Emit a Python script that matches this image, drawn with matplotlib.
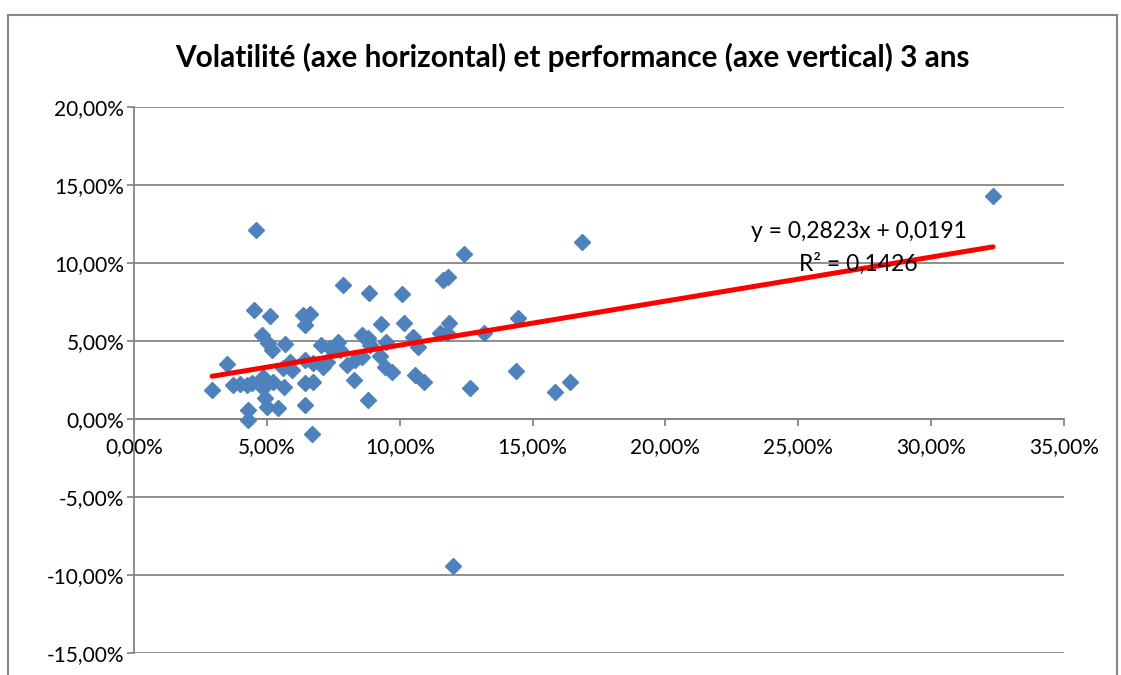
import matplotlib
matplotlib.use("Agg")
import matplotlib.pyplot as plt
from matplotlib.ticker import FuncFormatter, MultipleLocator
from matplotlib.patches import Rectangle
import numpy as np

# Volatility (x, %) and performance (y, %)
volatilite = [2.94, 3.50, 3.73, 3.99, 4.25, 4.44, 4.29, 4.29, 4.59, 4.52,
              4.82, 5.04, 5.19, 4.86, 4.93, 5.01, 5.12, 5.23, 5.42, 5.65,
              5.68, 5.61, 5.87, 5.95, 6.36, 6.62, 6.44, 6.44, 6.74, 6.44,
              6.74, 6.44, 6.70, 7.04, 7.11, 7.38, 7.68, 7.75, 7.87, 8.02,
              8.32, 8.28, 8.58, 8.58, 8.81, 8.88, 8.84, 8.81, 9.26, 9.30,
              9.48, 9.45, 9.71, 10.09, 10.16, 10.50, 10.69, 10.58, 10.91, 11.52,
              11.63, 11.82, 11.78, 11.86, 12.01, 12.42, 12.65, 13.17, 14.38, 14.45,
              15.84, 16.41, 16.86, 32.33, 4.86, 7.26]
performance = [1.86, 3.53, 2.18, 2.24, 2.18, 2.31, 0.58, -0.06, 12.12, 6.99,
               5.38, 4.87, 4.42, 2.69, 1.35, 0.77, 6.60, 2.37, 0.71, 2.05,
               4.81, 3.27, 3.65, 3.14, 6.67, 6.73, 6.03, 3.78, 3.59, 2.31,
               2.37, 0.90, -0.96, 4.74, 3.33, 4.55, 4.94, 4.42, 8.59, 3.46,
               3.78, 2.50, 3.97, 5.38, 5.19, 4.74, 8.08, 1.22, 4.04, 6.09,
               4.94, 3.33, 3.01, 8.01, 6.15, 5.26, 4.62, 2.82, 2.37, 5.51,
               8.91, 9.10, 5.51, 6.15, -9.42, 10.58, 1.99, 5.51, 3.08, 6.47,
               1.73, 2.37, 11.35, 14.29, 1.99, 3.65]

pente = 0.2823
ordonnee = 0.0191
r2 = 0.1426

titre = "Volatilité (axe horizontal) et performance (axe vertical) 3 ans"

x = np.array(volatilite) / 100
y = np.array(performance) / 100

plt.rcParams['font.family'] = ['Lato', 'DejaVu Sans']

W, H = 1121, 675
fig = plt.figure(figsize=(W / 100, H / 100), dpi=100)

# outer chart frame
fig.patches.append(Rectangle((8 / W, -0.1), (1117 - 8) / W, 1.1 - 15 / H,
                             transform=fig.transFigure, fill=False,
                             edgecolor='#868686', linewidth=1.5))

ax = fig.add_axes([134 / W, 1 - 653 / H, 930 / W, (653 - 107) / H])
ax.set_xlim(0, 0.35)
ax.set_ylim(-0.15, 0.20)

ax.xaxis.set_major_locator(MultipleLocator(0.05))
ax.yaxis.set_major_locator(MultipleLocator(0.05))
fmt = FuncFormatter(lambda v, p: f"{v * 100:.2f}%".replace('.', ','))
ax.xaxis.set_major_formatter(fmt)
ax.yaxis.set_major_formatter(fmt)

ax.grid(axis='y', color='#868686', linewidth=1.3)
ax.set_axisbelow(True)
for s in ['top', 'right']:
    ax.spines[s].set_visible(False)
ax.spines['bottom'].set_position(('data', 0))
ax.spines['bottom'].set_color('#868686')
ax.spines['left'].set_color('#868686')
ax.spines['bottom'].set_linewidth(1.3)
ax.spines['left'].set_linewidth(1.3)
ax.tick_params(axis='both', direction='out', length=5, width=1.3,
               color='#868686', labelsize=15, labelcolor='black')
ax.tick_params(axis='y', pad=2)
ax.tick_params(axis='x', pad=8)

ax.plot(x, y, linestyle='none', marker='D', markersize=8.5,
        color='#4F81BD', markeredgecolor='#4F81BD', zorder=3)

xl = np.array([x.min(), x.max()])
ax.plot(xl, pente * xl + ordonnee, color='#FF0000', linewidth=3.6,
        solid_capstyle='round', zorder=4)

eq = f"y = {pente:.4f}x + {ordonnee:.4f}".replace('.', ',')
r2txt = f"R² = {r2:.4f}".replace('.', ',')
ax.text(0.2728, 0.1199, eq, ha='center', va='center', fontsize=16.5, zorder=5)
ax.text(0.2725, 0.0994, r2txt, ha='center', va='center', fontsize=16.5, zorder=5)

fig.text(572 / W, 1 - 57 / H, titre, ha='center', va='center',
         fontsize=21.4, fontweight='bold')

fig.savefig('out.png', dpi=100)
